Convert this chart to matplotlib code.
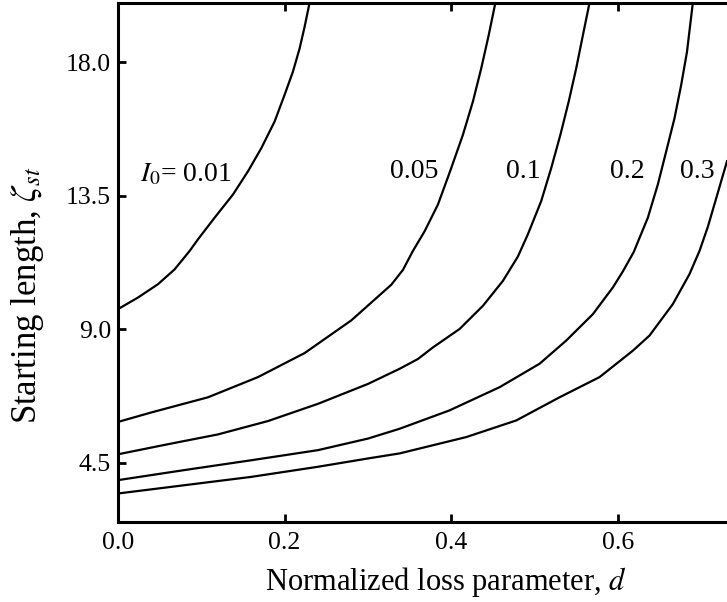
import matplotlib
matplotlib.use("Agg")
import matplotlib.pyplot as plt

plt.rcParams['font.family'] = ['Liberation Serif', 'DejaVu Serif']
plt.rcParams['mathtext.fontset'] = 'stix'

# Data (d, zeta_st) for each I0
d_001 = [0.0, 0.024, 0.048, 0.068, 0.086, 0.096, 0.116, 0.138, 0.156, 0.172,
         0.188, 0.2, 0.21, 0.218, 0.224, 0.23]
z_001 = [9.68, 10.07, 10.52, 11.02, 11.64, 12.03, 12.76, 13.54, 14.32, 15.10,
         16.0, 16.9, 17.68, 18.46, 19.19, 20.0]

d_005 = [0.0, 0.04, 0.108, 0.168, 0.224, 0.28, 0.328, 0.342, 0.354, 0.368, 0.384,
         0.40, 0.414, 0.426, 0.436, 0.445, 0.453]
z_005 = [5.88, 6.2, 6.71, 7.39, 8.2, 9.3, 10.5, 11.0, 11.64, 12.3, 13.2,
         14.43, 15.55, 16.67, 17.79, 18.91, 20.0]

d_01 = [0.0, 0.06, 0.12, 0.18, 0.24, 0.30, 0.338, 0.36, 0.378, 0.41, 0.438,
        0.462, 0.48, 0.492, 0.508, 0.52, 0.531, 0.541, 0.55, 0.558, 0.566]
z_01 = [4.79, 5.13, 5.46, 5.91, 6.49, 7.16, 7.67, 8.0, 8.39, 9.01, 9.79,
        10.63, 11.45, 12.2, 13.32, 14.43, 15.55, 16.67, 17.79, 18.9, 20.0]

d_02 = [0.0, 0.08, 0.16, 0.24, 0.30, 0.338, 0.398, 0.458, 0.506, 0.538, 0.57,
        0.594, 0.606, 0.619, 0.636, 0.648, 0.658, 0.668, 0.676, 0.683, 0.69]
z_02 = [3.92, 4.26, 4.59, 4.93, 5.32, 5.65, 6.27, 7.05, 7.84, 8.62, 9.51,
        10.41, 10.95, 11.6, 12.76, 13.88, 14.99, 16.11, 17.23, 18.35, 20.0]

d_03 = [0.0, 0.08, 0.16, 0.24, 0.30, 0.338, 0.418, 0.478, 0.53, 0.578, 0.618,
        0.638, 0.666, 0.686, 0.698, 0.708, 0.72, 0.731]
z_03 = [3.47, 3.75, 4.03, 4.37, 4.65, 4.82, 5.37, 5.93, 6.71, 7.39, 8.28,
        8.79, 9.85, 10.86, 11.64, 12.45, 13.6, 14.66]

curve_labels = [r"$I_0$= 0.01", "0.05", "0.1", "0.2", "0.3"]
label_pos = [(0.082, 14.2), (0.356, 14.3), (0.486, 14.3), (0.611, 14.3), (0.695, 14.3)]

x_ticks = [0.0, 0.2, 0.4, 0.6]
y_ticks = [4.5, 9.0, 13.5, 18.0]

fig = plt.figure(figsize=(7.27, 6.02), dpi=100)
ax = fig.add_axes([118/727, 1 - 522.3/602, 1 - 118/727, (522.3 - 2.7)/602])

for dd, zz in [(d_001, z_001), (d_005, z_005), (d_01, z_01), (d_02, z_02), (d_03, z_03)]:
    ax.plot(dd, zz, color='black', lw=1.6, solid_joinstyle='round')

for txt, (x, y) in zip(curve_labels, label_pos):
    ax.text(x, y, txt, ha='center', va='center', fontsize=20)

ax.set_xlim(0, 0.731)
ax.set_ylim(2.5, 20.0)
ax.set_xticks(x_ticks)
ax.set_xticklabels([f"{v:.1f}" for v in x_ticks])
ax.set_yticks(y_ticks)
ax.set_yticklabels([f"{v:.1f}" for v in y_ticks])

ax.tick_params(direction='in', length=6, width=2, labelsize=18.5, top=True, right=False)
ax.tick_params(axis='x', pad=7)
ax.tick_params(axis='y', pad=5)
for s in ['left', 'bottom', 'top']:
    ax.spines[s].set_linewidth(2.2)
ax.spines['right'].set_visible(False)

ax.set_xlabel(r"Normalized loss parameter, $d$", fontsize=22)
ax.xaxis.label.set_va('baseline')
ax.xaxis.set_label_coords((446 - 118) / 609, (522.3 - 590) / 519.6)

ax.set_ylabel(r"Starting length, $\zeta_{st}$", fontsize=25)
ax.yaxis.label.set_va('center')
ax.yaxis.set_label_coords((28 - 118) / 609, (522.3 - 295) / 519.6)

fig.savefig("out.png", dpi=100)
